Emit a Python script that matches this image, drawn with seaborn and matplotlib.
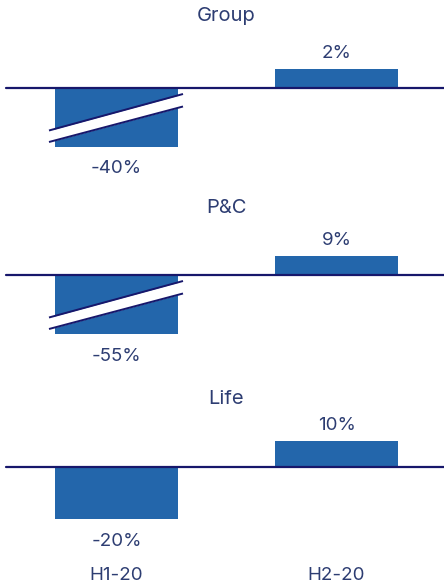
import numpy as np
import pandas as pd
import matplotlib
matplotlib.use("Agg")
import matplotlib.pyplot as plt
import seaborn as sns

# ---- data ----
periods = ["H1-20", "H2-20"]
segments = ["Group", "P&C", "Life"]
group_values = [-40, 2]
pc_values = [-55, 9]
life_values = [-20, 10]
# truncation level for bars drawn with an axis break (None = no break)
axis_break_floor = [-6.2, -28.0, None]

sns.set_theme(style="white")
plt.rcParams['font.family'] = ['Inter', 'DejaVu Sans']

W, H = 444, 584
fig = plt.figure(figsize=(W / 100, H / 100), dpi=100)

BAR = "#2366AB"
NAVY = "#17176B"
TXT = "#2D3D72"

zero_px = [88, 275, 467]
px_per_unit = [9.5, 2.11, 2.6]
title_base_px = [21, 213, 404]
x0_px, step_px = 116.5, 220.0


def xd(px):
    return (px - x0_px) / step_px


for i, (seg, vals) in enumerate(zip(segments, [group_values, pc_values, life_values])):
    z = zero_px[i]
    s = px_per_unit[i]
    top_px, bot_px = z - 70, z + 80
    ax = fig.add_axes([0, 1 - bot_px / H, 1, (bot_px - top_px) / H])
    floor = axis_break_floor[i]
    shown = list(vals) if floor is None else [max(v, floor) for v in vals]
    df = pd.DataFrame({"period": periods, "value": shown})
    sns.barplot(data=df, x="period", y="value", color=BAR, saturation=1,
                width=0.56, ax=ax, linewidth=0)
    ax.set_xlim(xd(0), xd(W))
    ax.set_ylim(-(bot_px - z) / s, (z - top_px) / s)
    ax.axis('off')
    ax.axhline(0, xmin=6 / W, xmax=1, color=NAVY, lw=1.6, zorder=5)

    for j, (v, sv) in enumerate(zip(vals, shown)):
        if v >= 0:
            y = sv + 11 / s
        else:
            y = sv - 26.5 / s
        ax.text(j, y, f"{v}%", ha='center', va='baseline', fontsize=13.5,
                color=TXT, clip_on=False)

    fig.text(226 / W, 1 - title_base_px[i] / H, seg, ha='center',
             va='baseline', fontsize=14.5, color=TXT)

    if floor is not None:
        xs = np.array([xd(49), xd(183)])
        top_line = -np.array([42.5, 6.0]) / s
        bot_line = -np.array([54.0, 18.5]) / s
        ax.fill_between(xs, bot_line, top_line, color="white", zorder=6, lw=0)
        ax.plot(xs, top_line, color=NAVY, lw=1.4, zorder=7, solid_capstyle='butt')
        ax.plot(xs, bot_line, color=NAVY, lw=1.4, zorder=7, solid_capstyle='butt')

    if i == 2:
        for j, p in enumerate(periods):
            ax.text(j, -(580 - z) / s, p, ha='center', va='baseline',
                    fontsize=13.5, color=TXT, clip_on=False)

fig.savefig("out.png", dpi=100)
